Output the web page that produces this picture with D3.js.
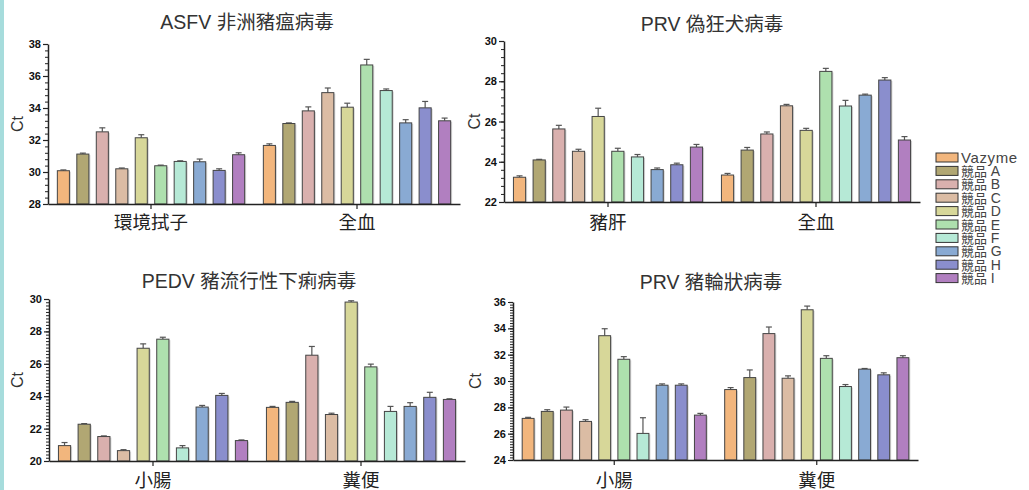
<!DOCTYPE html>
<html>
<meta charset="utf-8">
<head>
  <script src="https://d3js.org/d3.v7.min.js"></script>
  <style>
    body { margin: 0; background: #fff; }
    svg text { font-family: "Liberation Sans", "Noto Sans CJK TC", sans-serif; }
    .tick-lab { font-weight: bold; font-size: 11px; fill: #111; }
  </style>
</head>
<body>
<div id="chart"></div>
<script>
"use strict";

var series = ["Vazyme", "競品 A", "競品 B", "競品 C", "競品 D", "競品 E", "競品 F", "競品 G", "競品 H", "競品 I"];
var colors = ["#f2b67d", "#b1a773", "#d9b0ae", "#dbbca4", "#d7d799", "#aee0ae", "#b6e9d6", "#89aad3", "#8a8ecd", "#b17fc0"];

// ASFV
var asfvGroups = ["環境拭子", "全血"];
var asfvMean = [
  [30.08, 31.12, 32.51, 30.20, 32.14, 30.39, 30.66, 30.64, 30.10, 31.08],
  [31.66, 33.03, 33.82, 34.96, 34.05, 36.69, 35.09, 33.07, 34.01, 33.20]
];
var asfvErr = [
  [0.05, 0.06, 0.25, 0.05, 0.19, 0.04, 0.04, 0.17, 0.10, 0.12],
  [0.10, 0.04, 0.25, 0.29, 0.25, 0.35, 0.10, 0.20, 0.40, 0.17]
];

// PRV 偽狂犬
var prvGroups = ["豬肝", "全血"];
var prvMean = [
  [23.23, 24.09, 25.63, 24.52, 26.25, 24.52, 24.24, 23.61, 23.85, 24.73],
  [23.34, 24.58, 25.38, 26.78, 25.56, 28.49, 26.77, 27.31, 28.06, 25.08]
];
var prvErr = [
  [0.07, 0.03, 0.18, 0.10, 0.41, 0.15, 0.12, 0.08, 0.08, 0.13],
  [0.08, 0.13, 0.10, 0.07, 0.10, 0.15, 0.28, 0.05, 0.12, 0.17]
];

// PEDV
var pedvGroups = ["小腸", "糞便"];
var pedvMean = [
  [20.95, 22.27, 21.51, 20.64, 26.96, 27.52, 20.81, 23.33, 24.05, 21.26],
  [23.31, 23.62, 26.53, 22.87, 29.81, 25.81, 23.06, 23.37, 23.93, 23.80]
];
var pedvErr = [
  [0.19, 0.04, 0.04, 0.06, 0.27, 0.12, 0.14, 0.10, 0.12, 0.04],
  [0.06, 0.06, 0.54, 0.08, 0.08, 0.17, 0.31, 0.23, 0.31, 0.04]
];

// 輪狀
var rotaGroups = ["小腸", "糞便"];
var rotaMean = [
  [27.16, 27.69, 27.79, 26.93, 33.44, 31.65, 26.02, 29.68, 29.68, 27.41],
  [29.35, 30.26, 33.60, 30.21, 35.41, 31.72, 29.58, 30.90, 30.47, 31.77]
];
var rotaErr = [
  [0.08, 0.13, 0.23, 0.13, 0.53, 0.20, 1.19, 0.10, 0.10, 0.13],
  [0.15, 0.58, 0.50, 0.18, 0.28, 0.20, 0.15, 0.05, 0.15, 0.15]
];

var width = 1029, height = 490;

var svg = d3.select("#chart").append("svg")
    .attr("width", width)
    .attr("height", height);

// teal strip at the left edge
svg.append("rect").attr("x", 0).attr("y", 0).attr("width", 4).attr("height", height).attr("fill", "#a6dcdc");

var panels = [
  { title: "ASFV 非洲豬瘟病毒", groups: asfvGroups, mean: asfvMean, err: asfvErr,
    x0: 48, x1: 460, y0: 204, y1: 44, dom: [28, 38], step: 2, minor: 0.4, titleX: 247, titleY: 29, labY: 229, ctX: 18 },
  { title: "PRV 偽狂犬病毒", groups: prvGroups, mean: prvMean, err: prvErr,
    x0: 504, x1: 920, y0: 202, y1: 41, dom: [22, 30], step: 2, minor: 0.4, titleX: 712, titleY: 31, labY: 229, ctX: 475 },
  { title: "PEDV 豬流行性下痢病毒", groups: pedvGroups, mean: pedvMean, err: pedvErr,
    x0: 49, x1: 465, y0: 461, y1: 299, dom: [20, 30], step: 2, minor: 0.2, titleX: 249, titleY: 288, labY: 487, ctX: 18 },
  { title: "PRV 豬輪狀病毒", groups: rotaGroups, mean: rotaMean, err: rotaErr,
    x0: 513, x1: 918, y0: 460, y1: 302, dom: [24, 36], step: 2, minor: 0.2, titleX: 711, titleY: 289, labY: 487, ctX: 476 }
];

panels.forEach(function(p) {
  var g = svg.append("g");

  var y = d3.scaleLinear().domain(p.dom).range([p.y0, p.y1]);
  var xg = d3.scaleBand().domain(p.groups).range([p.x0, p.x1]).padding(0);
  var xs = d3.scaleBand().domain(series).range([0, xg.bandwidth()])
      .paddingInner(0.38).paddingOuter(0.48);

  // title
  g.append("text")
      .attr("x", p.titleX)
      .attr("y", p.titleY)
      .attr("text-anchor", "middle")
      .attr("font-size", 19.5)
      .attr("fill", "#333")
      .text(p.title);

  // y label
  g.append("text")
      .attr("transform", "translate(" + (p.ctX + 5) + "," + ((p.y0 + p.y1) / 2) + ") rotate(-90)")
      .attr("text-anchor", "middle")
      .attr("font-size", 16)
      .attr("fill", "#333")
      .text("Ct");

  // bars
  p.groups.forEach(function(grp, gi) {
    var gx = xg(grp);
    var gg = g.append("g").attr("transform", "translate(" + gx + ",0)");

    var rows = series.map(function(s, i) {
      return { s: s, v: p.mean[gi][i], e: p.err[gi][i], c: colors[i] };
    });

    // soft shadow
    gg.selectAll("rect.shadow").data(rows).enter().append("rect")
        .attr("x", function(d) { return xs(d.s) + 1.5; })
        .attr("y", function(d) { return y(d.v) + 1; })
        .attr("width", xs.bandwidth())
        .attr("height", function(d) { return p.y0 - y(d.v) - 1; })
        .attr("fill", "#bbb")
        .attr("opacity", 0.6);

    // error bars
    gg.selectAll("line.eb").data(rows).enter().append("line")
        .attr("x1", function(d) { return xs(d.s) + xs.bandwidth() / 2; })
        .attr("x2", function(d) { return xs(d.s) + xs.bandwidth() / 2; })
        .attr("y1", function(d) { return y(d.v); })
        .attr("y2", function(d) { return y(d.v + d.e); })
        .attr("stroke", "#555").attr("stroke-width", 1.2);
    gg.selectAll("line.cap").data(rows).enter().append("line")
        .attr("x1", function(d) { return xs(d.s) + xs.bandwidth() / 2 - 3; })
        .attr("x2", function(d) { return xs(d.s) + xs.bandwidth() / 2 + 3; })
        .attr("y1", function(d) { return y(d.v + d.e); })
        .attr("y2", function(d) { return y(d.v + d.e); })
        .attr("stroke", "#555").attr("stroke-width", 1.2);

    gg.selectAll("rect.bar").data(rows).enter().append("rect")
        .attr("x", function(d) { return xs(d.s); })
        .attr("y", function(d) { return y(d.v); })
        .attr("width", xs.bandwidth())
        .attr("height", function(d) { return p.y0 - y(d.v); })
        .attr("fill", function(d) { return d.c; })
        .attr("stroke", "#444")
        .attr("stroke-width", 1);
  });

  // y axis with minor ticks
  var minorVals = d3.range(p.dom[0], p.dom[1] + 1e-6, p.minor);
  g.append("g")
      .attr("transform", "translate(" + p.x0 + ",0)")
      .call(d3.axisLeft(y).tickValues(minorVals).tickSize(3).tickFormat(""))
      .call(function(a) { a.select(".domain").remove(); a.selectAll("line").attr("stroke", "#222"); });

  var yAxis = g.append("g")
      .attr("transform", "translate(" + p.x0 + ",0)")
      .call(d3.axisLeft(y).tickValues(d3.range(p.dom[0], p.dom[1] + 1e-6, p.step)).tickSize(5).tickPadding(2).tickSizeOuter(0));
  yAxis.select(".domain").attr("stroke", "#222").attr("stroke-width", 1.5);
  yAxis.selectAll("line").attr("stroke", "#222").attr("stroke-width", 1.2);
  yAxis.selectAll("text").attr("class", "tick-lab");

  // x axis
  var xAxis = g.append("g")
      .attr("transform", "translate(0," + p.y0 + ")")
      .call(d3.axisBottom(xg).tickSize(5).tickSizeOuter(0).tickFormat(""));
  xAxis.select(".domain").attr("stroke", "#222").attr("stroke-width", 1.5);
  xAxis.selectAll("line").attr("stroke", "#222").attr("stroke-width", 1.2);

  g.selectAll("text.grp").data(p.groups).enter().append("text")
      .attr("x", function(d) { return xg(d) + xg.bandwidth() / 2; })
      .attr("y", p.labY)
      .attr("text-anchor", "middle")
      .attr("font-size", 18.5)
      .attr("fill", "#222")
      .text(function(d) { return d; });
});

// legend
var legend = svg.append("g").attr("transform", "translate(936,153)");
var items = legend.selectAll("g").data(series).enter().append("g")
    .attr("transform", function(d, i) { return "translate(0," + (i * 13.4) + ")"; });
items.append("rect")
    .attr("width", 22).attr("height", 9)
    .attr("fill", function(d, i) { return colors[i]; })
    .attr("stroke", "#333").attr("stroke-width", 1);
items.append("text")
    .attr("x", 25).attr("y", 9.5)
    .attr("font-size", 13)
    .attr("fill", "#444")
    .each(function(d) {
      var t = d3.select(this);
      var parts = d.split(" ");
      if (parts.length === 1) {
        t.append("tspan").attr("font-size", 15).attr("letter-spacing", 0.6).text(d);
      } else {
        t.append("tspan").text(parts[0] + " ");
        t.append("tspan").attr("font-size", 14).text(parts[1]);
      }
    });
</script>
</body>
</html>
